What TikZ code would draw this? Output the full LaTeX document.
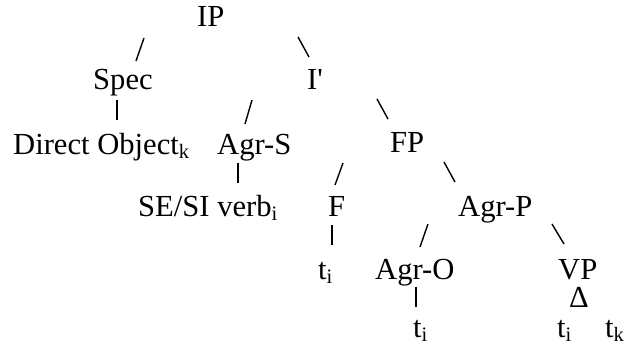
\documentclass[tikz,border=0pt]{standalone}
\usepackage{fontspec}
\setmainfont{Liberation Serif}
\newcommand{\sbx}[1]{\raisebox{-4pt}{\fontsize{20.5}{20}\selectfont #1}}
\begin{document}
\begin{tikzpicture}[x=1pt,y=-1pt,
  lab/.style={anchor=base west,inner sep=0pt,font=\fontsize{30.6}{36}\selectfont},
  edge/.style={line width=1.4pt}]
\useasboundingbox (0,0) rectangle (625,345);
% nodes
\node[lab] (ip)   at (197,27)  {IP};
\node[lab] (spec) at (93,90)   {Spec};
\node[lab] (ibar) at (307,90)  {I\textquotesingle};
\node[lab] (do)   at (13,154)  {Direct Object\sbx{k}};
\node[lab] (agrs) at (217,154) {Agr-S};
\node[lab] (fp)   at (390,153) {FP};
\node[lab] (se)   at (138,217) {SE/SI verb\sbx{i}};
\node[lab] (f)    at (328,216) {F};
\node[lab] (agrp) at (458,216) {Agr-P};
\node[lab] (tf)   at (318,279) {t\sbx{i}};
\node[lab] (agro) at (375,279) {Agr-O};
\node[lab] (vp)   at (558,279) {VP};
\node[lab] (tri)  at (569,307) {Δ};
\node[lab] (to)   at (413,337) {t\sbx{i}};
\node[lab] (tv)   at (557,337) {t\sbx{i}};
\node[lab] (tk)   at (605,337) {t\sbx{k}};
% connector end points
\coordinate (a1) at (144,38);  \coordinate (a2) at (136,61);
\coordinate (b1) at (298,37);  \coordinate (b2) at (309,57);
\coordinate (c1) at (117,100); \coordinate (c2) at (117,120);
\coordinate (d1) at (252,100); \coordinate (d2) at (245,124);
\coordinate (e1) at (377,99);  \coordinate (e2) at (388,119);
\coordinate (g1) at (238,163); \coordinate (g2) at (238,183);
\coordinate (h1) at (343,163); \coordinate (h2) at (335,185);
\coordinate (j1) at (444,162); \coordinate (j2) at (455,182);
\coordinate (k1) at (332,225); \coordinate (k2) at (332,245);
\coordinate (m1) at (428,224); \coordinate (m2) at (420,247);
\coordinate (n1) at (552,224); \coordinate (n2) at (564,244);
\coordinate (p1) at (416,287); \coordinate (p2) at (416,307);
\foreach \s/\e in {a1/a2,b1/b2,c1/c2,d1/d2,e1/e2,g1/g2,h1/h2,j1/j2,k1/k2,m1/m2,n1/n2,p1/p2}
  \draw[edge] (\s) -- (\e);
\end{tikzpicture}
\end{document}
